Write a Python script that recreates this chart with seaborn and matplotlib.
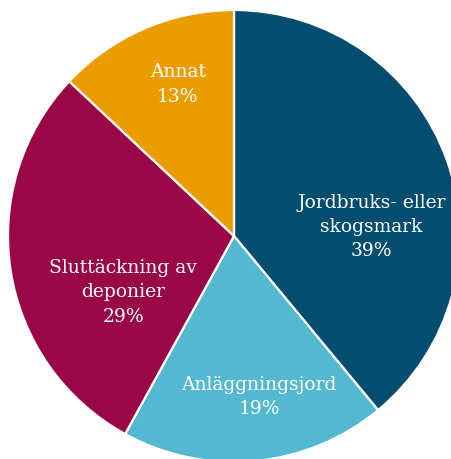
import matplotlib
matplotlib.use("Agg")
import matplotlib.pyplot as plt
import numpy as np
import seaborn as sns

categories = ["Jordbruks- eller\nskogsmark", "Anläggningsjord", "Sluttäckning av\ndeponier", "Annat"]
shares = [39, 19, 29, 13]
colors = ["#034d70", "#53b8d0", "#9a0747", "#eb9c00"]

# label placement: (angle offset from wedge middle in degrees, radius fraction)
label_place = [(-16, 0.61), (3.5, 0.72), (18, 0.55), (-3, 0.715)]

sns.set_theme(style="white")
plt.rcParams["font.family"] = ["DejaVu Serif"]

W, H = 451, 459
fig = plt.figure(figsize=(W / 100, H / 100), dpi=100)
ax = fig.add_axes([0, 0, 1, 1])

R = 226.0
cx, cy = 234.0, 236.0

wedges, _ = ax.pie(
    shares,
    colors=sns.color_palette(colors),
    startangle=90,
    counterclock=False,
    radius=1.0,
    wedgeprops=dict(edgecolor="white", linewidth=1.6),
    frame=True,
)
ax.set_xlim(-cx / R, (W - cx) / R)
ax.set_ylim(-(H - cy) / R, cy / R)
ax.set_aspect("auto")
ax.axis("off")

for w, cat, val, (doff, rf) in zip(wedges, categories, shares, label_place):
    mid = np.deg2rad((w.theta1 + w.theta2) / 2 + doff)
    ax.text(rf * np.cos(mid), rf * np.sin(mid), f"{cat}\n{val}%",
            ha="center", va="center", color="white", fontsize=13.5,
            linespacing=1.45)

fig.savefig("out.png", dpi=100)
